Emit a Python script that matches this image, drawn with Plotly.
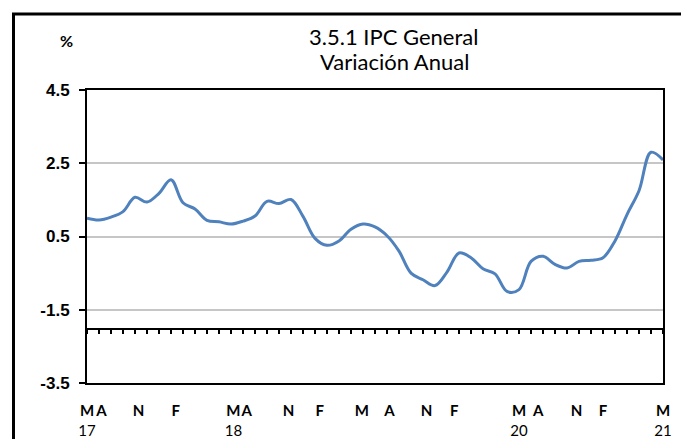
import plotly.graph_objects as go

# Monthly annual CPI variation (%), Mar-2017 .. Mar-2021
months = [f"{y}-{m:02d}" for y, m in
          [(2017, m) for m in range(3, 13)] + [(2018, m) for m in range(1, 13)] +
          [(2019, m) for m in range(1, 13)] + [(2020, m) for m in range(1, 13)] +
          [(2021, m) for m in range(1, 4)]]
values = [1.00, 0.95, 1.03, 1.18, 1.57, 1.44, 1.68, 2.05, 1.42, 1.25,
          0.94, 0.90, 0.84, 0.92, 1.06, 1.46, 1.40, 1.51, 1.05, 0.45,
          0.26, 0.38, 0.70, 0.84, 0.76, 0.52, 0.10, -0.50, -0.68, -0.84,
          -0.47, 0.05, -0.08, -0.38, -0.52, -1.00, -0.95, -0.18, -0.04, -0.26,
          -0.36, -0.18, -0.15, -0.08, 0.38, 1.10, 1.75, 2.80, 2.59]

# x tick labels (position in months from Mar-2017, text)
tick_pos = [0, 1.2, 4.3, 7.4, 12.2, 13.3, 16.8, 19.4, 22.9, 25.2, 28.3, 30.6,
            36.0, 37.6, 40.8, 43.0, 48.0]
tick_txt = ["<b>M</b><br>17", "<b>A</b>", "<b>N</b>", "<b>F</b>",
            "<b>M</b><br>18", "<b>A</b>", "<b>N</b>", "<b>F</b>",
            "<b>M</b>", "<b>A</b>", "<b>N</b>", "<b>F</b>",
            "<b>M</b><br>20", "<b>A</b>", "<b>N</b>", "<b>F</b>", "<b>M</b><br>21"]
y_ticks = [4.5, 2.5, 0.5, -1.5, -3.5]

xi = list(range(len(values)))

fig = go.Figure()
fig.add_trace(go.Scatter(x=xi, y=values, mode="lines", line_shape="spline",
                         line=dict(color="#4F81BD", width=3), hovertext=months,
                         showlegend=False))
# invisible trace that carries the crossing axis at -2
fig.add_trace(go.Scatter(x=[xi[0], xi[-1]], y=[values[0], values[-1]], xaxis="x2",
                         mode="lines", line=dict(width=0), opacity=0,
                         hoverinfo="skip", showlegend=False))

OFF = 8  # page body margin
W, H = 689 - OFF, 439 - OFF
L, R, T, B = 87 - OFF, 26, 90 - OFF, 56
pw, ph = W - L - R, H - T - B

def px_x(p):
    return (p - OFF - L) / pw

def px_y(p):
    return (H - B - (p - OFF)) / ph

fig.update_layout(
    width=W, height=H, margin=dict(l=L, r=R, t=T, b=B, autoexpand=False),
    paper_bgcolor="white", plot_bgcolor="white",
    xaxis=dict(range=[0, 48], showline=True, mirror=True, linecolor="black",
               linewidth=2, showgrid=False, zeroline=False, ticks="",
               tickmode="array", tickvals=tick_pos, ticktext=tick_txt,
               tickangle=0, ticklabelstandoff=13, automargin=False,
               tickfont=dict(family="Lato", size=15, color="black")),
    xaxis2=dict(range=[0, 48], overlaying="x", anchor="free", position=0.183,
                side="bottom", showline=True, linecolor="black", linewidth=2,
                ticks="outside", ticklen=4, tickwidth=1.5, tickcolor="black",
                tickmode="linear", tick0=0, dtick=1, showticklabels=False,
                showgrid=False, zeroline=False, automargin=False),
    yaxis=dict(range=[-3.5, 4.5], tickmode="array", tickvals=y_ticks,
               ticktext=[f"{v:.1f}" for v in y_ticks],
               showline=True, mirror=True, linecolor="black", linewidth=2,
               ticks="outside", ticklen=6, tickwidth=1.5, tickcolor="black",
               showgrid=True, gridcolor="#C6C6C6", gridwidth=1.5, zeroline=False,
               ticklabelstandoff=6, automargin=False,
               tickfont=dict(family="Liberation Sans", size=17, color="black",
                             weight="bold")),
    shapes=[dict(type="rect", xref="paper", yref="paper",
                 x0=px_x(13.5), x1=px_x(720), y0=px_y(14), y1=px_y(470),
                 line=dict(color="black", width=3), fillcolor="rgba(0,0,0,0)",
                 layer="below")],
    annotations=[
        dict(text="3.5.1 IPC General", xref="paper", yref="paper",
             x=px_x(393), y=px_y(37), xanchor="center", yanchor="middle",
             showarrow=False, font=dict(family="Lato", size=22, color="black")),
        dict(text="Variación Anual", xref="paper", yref="paper",
             x=px_x(394), y=px_y(61), xanchor="center", yanchor="middle",
             showarrow=False, font=dict(family="Lato", size=22, color="black")),
        dict(text="<b>%</b>", xref="paper", yref="paper", x=px_x(66), y=px_y(41),
             xanchor="center", yanchor="middle", showarrow=False,
             font=dict(family="Lato", size=16, color="black")),
    ],
)

fig.write_html("out.html")
